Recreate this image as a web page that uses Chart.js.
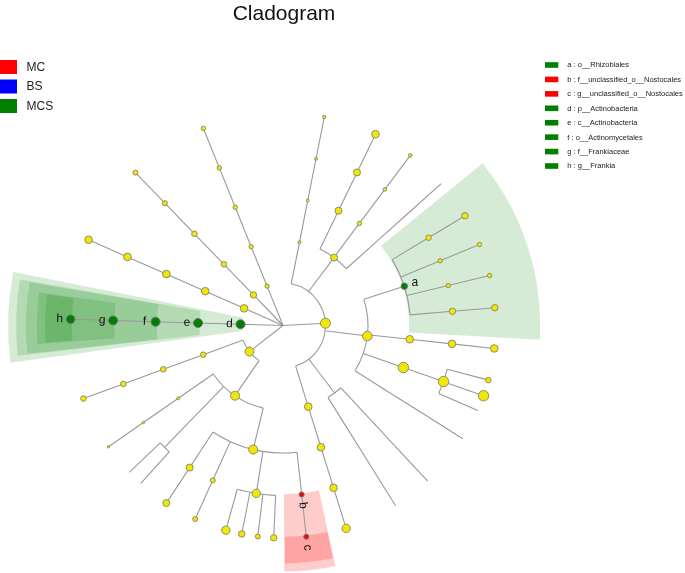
<!DOCTYPE html>
<html><head><meta charset="utf-8">
<script src="https://cdn.jsdelivr.net/npm/chart.js@4.4.0/dist/chart.umd.min.js"></script>
<style>html,body{margin:0;padding:0;background:#fff}#wrap{width:685px;height:573px;position:relative}</style>
</head><body><div id="wrap"><canvas id="c"></canvas></div>
<script>
// ---------- text / legend data ----------
const chartTitle = 'Cladogram';
const classNames = ['MC', 'BS', 'MCS'];
const classColors = ['#ff0000', '#0000ff', '#008000'];
const biomarkerNames = [
  'a : o__Rhizobiales',
  'b : f__unclassified_o__Nostocales',
  'c : g__unclassified_o__Nostocales',
  'd : p__Actinobacteria',
  'e : c__Actinobacteria',
  'f : o__Actinomycetales',
  'g : f__Frankiaceae',
  'h : g__Frankia'
];
const biomarkerClass = ['MCS', 'MC', 'MC', 'MCS', 'MCS', 'MCS', 'MCS', 'MCS'];

// ---------- tree data (index = node) ----------
// parent index (-1 = root), taxonomic depth (1 phylum .. 5 genus)
const parentOf = [
  -1, 0, 1, 2, 3,  0, 5, 6, 7,  5, 9, 10,  5, 12, 13,
  0, 15, 16, 17, 16, 19, 16, 21, 16, 23,  15, 25, 26,  15, 28, 29, 29, 29,  15, 33, 34,
  0, 36, 37, 38, 36, 40, 41,  0, 43, 44, 45,
  -1, 47, 48, 49, 50,
  -1, 52, 53, 54, 55,
  -1, 57, 58, 59, 60,
  -1, 62, 63, 64, 65,
  -1, 67, 68, 69, 70,  67, 72, 73, 74,  72, 76, 77, 77,
  72, 80, 81, 80, 83, 80, 85, 85, 85, 85, 80, 90
];
const depthOf = [
  1, 2, 3, 4, 5,  2, 3, 4, 5,  3, 4, 5,  3, 4, 5,
  2, 3, 4, 5, 4, 5, 4, 5, 4, 5,  3, 4, 5,  3, 4, 5, 5, 5,  3, 4, 5,
  2, 3, 4, 5, 3, 4, 5,  2, 3, 4, 5,
  1, 2, 3, 4, 5,
  1, 2, 3, 4, 5,
  1, 2, 3, 4, 5,
  1, 2, 3, 4, 5,
  1, 2, 3, 4, 5,  2, 3, 4, 5,  3, 4, 5, 5,
  3, 4, 5, 4, 5, 4, 5, 5, 5, 5, 4, 5
];
// angular position (degrees) of terminal taxa; inner nodes sit mid-way between their children
const leafAngle = [
  null, null, null, null, 78.8,  null, null, null, 64.2,  null, null, 53.2,  null, null, 41.9,
  null, null, null, 31.1, null, 22.4, null, 13.6, null, 4.8,  null, null, -6.2,  null, null, -14.9, -19.3, -23.6,  null, null, -32.2,
  null, null, null, -47.1, null, null, -58.0,  null, null, null, -72.7,
  null, null, null, null, 112.0,
  null, null, null, null, 134.0,
  null, null, null, null, 156.2,
  null, null, null, null, 178.3,
  null, null, null, null, 200.1,  null, null, null, 214.8,  null, null, 223.7, 228.0,
  null, null, 236.7, null, 245.6, null, 254.4, 258.8, 263.2, 267.5, null, 276.3
];
// relative abundance score of each taxon (drives node size)
const abundance = [
  5.5, 2.0, 2.0, 2.0, 2.2,  4.0, 4.0, 4.0, 4.3,  2.7, 2.3, 2.3,  0, 0, 0,
  5.3, 3.7, 3.3, 3.7, 2.7, 2.7, 2.7, 2.7, 3.7, 3.7,  4.3, 4.3, 4.3,  5.7, 5.7, 3.3, 5.7, 0,  0, 0, 0,
  0, 0, 0, 0, 0, 0, 0,  4.3, 4.3, 4.3, 4.7,
  2.7, 2.7, 2.7, 2.7, 2.7,
  3.7, 3.3, 3.3, 3.0, 3.0,
  4.3, 4.3, 4.3, 4.3, 4.3,
  5.0, 5.0, 5.0, 5.0, 4.8,
  5.0, 3.3, 3.3, 3.3, 3.3,  5.0, 2.0, 1.7, 1.7,  0, 0, 0, 0,
  5.0, 4.0, 4.0, 3.0, 3.0, 4.7, 4.7, 3.7, 3.0, 3.7, 3.0, 3.0
];
// biomarker letter per node
const biomarkerLetter = {16: 'a', 90: 'b', 91: 'c', 62: 'd', 63: 'e', 64: 'f', 65: 'g', 66: 'h'};

// ---------- layout helpers ----------
const N = parentOf.length;
const kids = Array.from({length: N}, () => []);
parentOf.forEach((p, i) => { if (p >= 0) kids[p].push(i); });
const angleOf = new Array(N).fill(null);
function resolveAngle(i) {
  if (angleOf[i] !== null) return angleOf[i];
  if (!kids[i].length) { angleOf[i] = leafAngle[i]; return angleOf[i]; }
  const a = kids[i].map(resolveAngle);
  angleOf[i] = (Math.min(...a) + Math.max(...a)) / 2;
  return angleOf[i];
}
for (let i = 0; i < N; i++) resolveAngle(i);
function leafRange(i) {
  if (!kids[i].length) return [angleOf[i], angleOf[i]];
  let lo = Infinity, hi = -Infinity;
  kids[i].forEach(c => { const r = leafRange(c); lo = Math.min(lo, r[0]); hi = Math.max(hi, r[1]); });
  return [lo, hi];
}
const rad = d => d * Math.PI / 180;
const letterToClass = {};
biomarkerNames.forEach((n, k) => { letterToClass[n[0]] = biomarkerClass[k]; });
function nodeClass(i) { const l = biomarkerLetter[i]; return l ? letterToClass[l] : null; }
function classColor(c) { return classColors[classNames.indexOf(c)]; }

const points = angleOf.map((a, i) => ({x: depthOf[i] * Math.cos(rad(a)), y: depthOf[i] * Math.sin(rad(a))}));

const UNIT = 42.5; // pixels per taxonomic level
const FONT = '"Liberation Sans", Arial, Helvetica, sans-serif';

function geom(chart) {
  const xs = chart.scales.x, ys = chart.scales.y;
  const cx = xs.getPixelForValue(0), cy = ys.getPixelForValue(0);
  const u = xs.getPixelForValue(1) - cx;
  return {cx, cy, u};
}

const shadePad = [0, 9.5, 8.2, 8.0, 6.0, 5.8];
const shadeOuter = [0, 6.47, 6.28, 6.05, 5.79, 5.6];

const cladePlugin = {
  id: 'clade',
  beforeDatasetsDraw(chart) {
    const ctx = chart.ctx; const {cx, cy, u} = geom(chart);
    ctx.save();
    Object.keys(biomarkerLetter).forEach(k => {
      const i = +k; const d = depthOf[i];
      const [lo, hi] = leafRange(i);
      const a0 = rad(lo - shadePad[d]), a1 = rad(hi + shadePad[d]);
      const rIn = (d - 0.03) * u, rOut = shadeOuter[d] * u;
      const cls = nodeClass(i);
      ctx.fillStyle = cls === 'MC' ? 'rgba(255,0,0,0.2)' : 'rgba(0,128,0,0.16)';
      ctx.beginPath();
      ctx.arc(cx, cy, rOut, -a1, -a0);
      ctx.arc(cx, cy, rIn, -a0, -a1, true);
      ctx.closePath(); ctx.fill();
    });
    ctx.strokeStyle = '#999999'; ctx.lineWidth = 1.1;
    for (let i = 0; i < N; i++) {
      const p = parentOf[i]; const r0 = p < 0 ? 0 : depthOf[p]; const r1 = depthOf[i];
      const a = rad(angleOf[i]);
      ctx.beginPath();
      ctx.moveTo(cx + r0 * u * Math.cos(a), cy - r0 * u * Math.sin(a));
      ctx.lineTo(cx + r1 * u * Math.cos(a), cy - r1 * u * Math.sin(a));
      ctx.stroke();
      if (kids[i].length > 1) {
        const ca = kids[i].map(c => angleOf[c]);
        const lo = rad(Math.min(...ca)), hi = rad(Math.max(...ca));
        ctx.beginPath(); ctx.arc(cx, cy, r1 * u, -hi, -lo); ctx.stroke();
      }
    }
    ctx.restore();
  },
  afterDatasetsDraw(chart) {
    const ctx = chart.ctx; const {cx, cy, u} = geom(chart);
    ctx.save();
    ctx.fillStyle = '#111'; ctx.font = '12px ' + FONT;
    ctx.textAlign = 'center'; ctx.textBaseline = 'middle';
    Object.keys(biomarkerLetter).forEach(k => {
      const i = +k; const a = angleOf[i]; const r = depthOf[i] * u + 11;
      const x = cx + r * Math.cos(rad(a)), y = cy - r * Math.sin(rad(a));
      let rot = -a; const aa = ((a % 360) + 360) % 360;
      if (aa > 90 && aa < 270) rot = 180 - a;
      if (aa < 60 || aa > 300) { if (Math.abs(rot) < 45) rot = 0; }
      ctx.save(); ctx.translate(x, y); ctx.rotate(rad(rot));
      ctx.fillText(biomarkerLetter[k], 0, 0); ctx.restore();
    });
    ctx.fillStyle = '#111'; ctx.font = '21px ' + FONT; ctx.textAlign = 'center'; ctx.textBaseline = 'alphabetic';
    ctx.fillText(chartTitle, cx + 1, 19.5);
    ctx.font = '12px ' + FONT; ctx.textAlign = 'left'; ctx.textBaseline = 'middle';
    classNames.forEach((n, k) => {
      const y = 67 + k * 19.5;
      ctx.fillStyle = classColors[k]; ctx.fillRect(-2, y - 7, 19, 14);
      ctx.fillStyle = '#222'; ctx.fillText(n, 26.5, y + 0.5);
    });
    ctx.font = '7.5px ' + FONT;
    biomarkerNames.forEach((n, k) => {
      const y = 65 + k * 14.43;
      ctx.fillStyle = classColor(biomarkerClass[k]); ctx.fillRect(545, y - 2.8, 13.3, 5.6);
      ctx.fillStyle = '#222'; ctx.fillText(n, 567.3, y + 0.3);
    });
    ctx.restore();
  }
};

new Chart(document.getElementById('c'), {
  type: 'scatter',
  data: {
    datasets: [{
      data: points,
      pointRadius: c => Math.max(0, abundance[c.dataIndex] - 0.5),
      pointHoverRadius: c => Math.max(0, abundance[c.dataIndex] - 0.5),
      pointBackgroundColor: c => { const cl = nodeClass(c.dataIndex); return cl ? classColor(cl) : '#f0e800'; },
      pointBorderColor: c => nodeClass(c.dataIndex) ? '#707070' : '#8c8c6a',
      pointBorderWidth: 1,
      showLine: false,
      clip: false
    }]
  },
  options: {
    responsive: true, maintainAspectRatio: false, animation: false, events: [],
    layout: {padding: 0, autoPadding: false},
    plugins: {legend: {display: false}, tooltip: {enabled: false}, title: {display: false}},
    scales: {
      x: {type: 'linear', display: false, min: -283 / UNIT, max: 402 / UNIT},
      y: {type: 'linear', display: false, min: -247.5 / UNIT, max: 325.5 / UNIT}
    }
  },
  plugins: [cladePlugin]
});
</script></body></html>
